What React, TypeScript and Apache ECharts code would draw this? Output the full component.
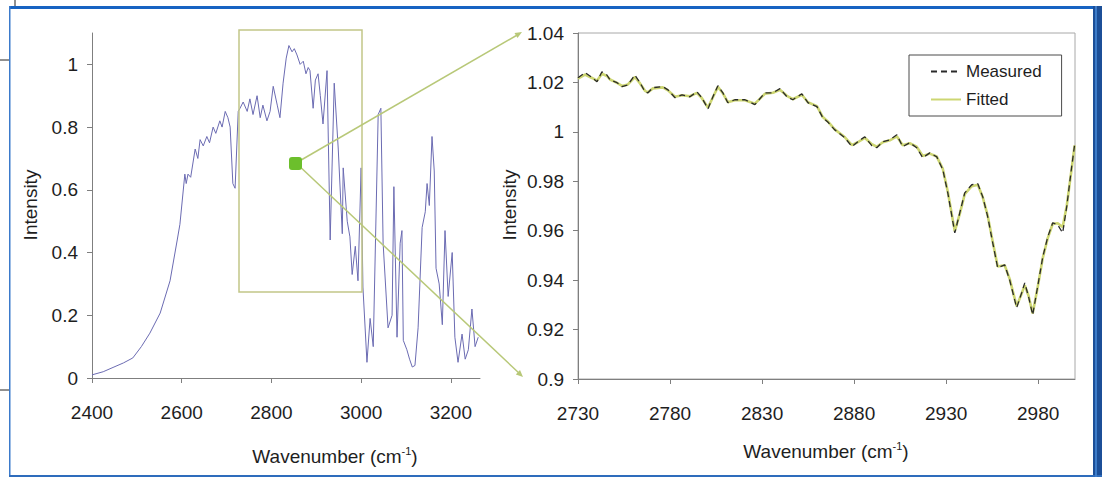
import React, { useEffect, useRef } from "react";
import * as echarts from "echarts";

// Left panel: full spectrum
const leftWavenumber = [
  2400, 2425, 2449, 2470, 2491, 2510, 2529, 2552, 2574, 2590, 2596, 2607, 2610, 2614, 2620,
  2630, 2636, 2641, 2648, 2656, 2662, 2670, 2676, 2685, 2690, 2697, 2703, 2708, 2714, 2719,
  2726, 2730, 2737, 2746, 2752, 2759, 2768, 2775, 2781, 2790, 2797, 2804, 2813, 2819, 2826,
  2833, 2839, 2846, 2851, 2857, 2864, 2871, 2877, 2882, 2886, 2893, 2898, 2904, 2909, 2915,
  2924, 2931, 2940, 2949, 2958, 2960, 2969, 2975, 2980, 2987, 2993, 3000, 3004, 3013, 3020,
  3027, 3038, 3044, 3049, 3060, 3069, 3073, 3080, 3087, 3091, 3094, 3102, 3108, 3114, 3120,
  3127, 3136, 3143, 3147, 3152, 3158, 3163, 3167, 3174, 3181, 3187, 3194, 3203, 3209, 3216,
  3225, 3232, 3239, 3247, 3254, 3261,
];
const leftIntensity = [
  0.01, 0.02, 0.035, 0.048, 0.064, 0.1, 0.143, 0.207, 0.31, 0.44, 0.49, 0.65, 0.62, 0.65, 0.64,
  0.73, 0.7, 0.76, 0.74, 0.77, 0.75, 0.8, 0.78, 0.82, 0.8, 0.85, 0.83, 0.8, 0.62, 0.605,
  0.85, 0.86, 0.88, 0.85, 0.89, 0.84, 0.9, 0.83, 0.87, 0.82, 0.85, 0.93, 0.87, 0.83, 0.94,
  1.02, 1.06, 1.04, 1.05, 1.03, 1.0, 1.01, 0.97, 0.99, 0.98, 0.86, 0.95, 0.97, 0.9, 0.81,
  0.98, 0.44, 0.94, 0.73, 0.46, 0.67, 0.5, 0.45, 0.33, 0.42, 0.31, 0.67, 0.29, 0.05, 0.19,
  0.1, 0.84, 0.86, 0.43, 0.16, 0.2, 0.61, 0.13, 0.43, 0.47, 0.12, 0.09, 0.06, 0.035, 0.04,
  0.16, 0.48, 0.53, 0.62, 0.55, 0.77, 0.66, 0.35, 0.3, 0.17, 0.47, 0.26, 0.4, 0.13, 0.05,
  0.14, 0.06, 0.09, 0.22, 0.1, 0.13,
];
const leftXTicks = [2400, 2600, 2800, 3000, 3200];
const leftYTicks = [0, 0.2, 0.4, 0.6, 0.8, 1];

// Right panel: zoomed region, measured vs fitted
const rightWavenumber = [
  2730.0, 2733.8, 2737.6, 2740.3, 2743.0, 2745.7, 2747.4, 2751.2, 2753.9, 2757.1, 2760.9,
  2763.7, 2766.4, 2768.0, 2770.7, 2776.1, 2778.9, 2782.7, 2786.5, 2790.8, 2794.6, 2797.3,
  2800.6, 2803.3, 2806.0, 2808.7, 2811.4, 2815.2, 2820.7, 2826.1, 2831.5, 2835.9, 2839.7,
  2843.5, 2846.7, 2851.6, 2854.9, 2859.8, 2863.0, 2865.7, 2869.5, 2875.0, 2878.8, 2882.0,
  2885.8, 2889.6, 2892.3, 2895.6, 2899.4, 2903.2, 2906.4, 2910.2, 2914.0, 2917.3, 2921.1,
  2924.9, 2928.2, 2930.9, 2934.7, 2937.4, 2940.1, 2943.9, 2947.2, 2949.9, 2952.6, 2955.3,
  2958.0, 2961.8, 2964.5, 2968.3, 2971.0, 2972.7, 2974.8, 2977.0, 2979.7, 2982.5, 2985.2,
  2987.9, 2990.6, 2993.3, 2995.5, 2998.2, 2999.8,
];
const measured = [
  1.0219, 1.024, 1.022, 1.0203, 1.0243, 1.023, 1.021, 1.0199, 1.0183, 1.019, 1.023,
  1.0199, 1.0162, 1.0158, 1.0179, 1.0183, 1.017, 1.0138, 1.015, 1.0142, 1.0162, 1.0138,
  1.0093, 1.0142, 1.0187, 1.0158, 1.0118, 1.013, 1.013, 1.011, 1.0158, 1.0158, 1.0175,
  1.0142, 1.013, 1.0154, 1.0118, 1.0102, 1.0057, 1.004, 1.0008, 0.9976, 0.994, 0.996,
  0.998, 0.9944, 0.9936, 0.996, 0.9968, 0.9988, 0.994, 0.9956, 0.9936, 0.9895, 0.9915,
  0.9899, 0.9847, 0.9753, 0.9591, 0.9672, 0.9753, 0.9786, 0.979, 0.9737, 0.9656, 0.9551,
  0.945, 0.9462, 0.9401, 0.9288, 0.9348, 0.9389, 0.9332, 0.9259, 0.9373, 0.9494, 0.9575,
  0.9632, 0.9624, 0.9591, 0.9697, 0.9859, 0.9948,
];
const fitted = [
  1.0215, 1.0232, 1.0218, 1.0207, 1.0235, 1.0226, 1.0212, 1.0198, 1.0186, 1.0192, 1.0222,
  1.0196, 1.0166, 1.016, 1.0176, 1.018, 1.0168, 1.0142, 1.0148, 1.0144, 1.0158, 1.0136,
  1.0098, 1.014, 1.0182, 1.0156, 1.012, 1.0128, 1.0128, 1.0114, 1.0154, 1.0158, 1.017,
  1.0146, 1.0132, 1.015, 1.012, 1.0104, 1.006, 1.0042, 1.001, 0.9978, 0.9946, 0.9958,
  0.9976, 0.995, 0.994, 0.9958, 0.9966, 0.9982, 0.9946, 0.9954, 0.994, 0.9902, 0.9912,
  0.99, 0.985, 0.9758, 0.9598, 0.9668, 0.9748, 0.978, 0.9786, 0.9735, 0.966, 0.9555,
  0.9455, 0.946, 0.9405, 0.9295, 0.9345, 0.938, 0.9336, 0.9265, 0.937, 0.949, 0.957,
  0.9628, 0.963, 0.9615, 0.97, 0.9852, 0.9945,
];
const rightXTicks = [2730, 2780, 2830, 2880, 2930, 2980];
const rightYTicks = [0.9, 0.92, 0.94, 0.96, 0.98, 1, 1.02, 1.04];

const FONT = "'Liberation Sans', Arial, sans-serif";
const TXT = "#1e1e1e";
const AXIS = "#7f7f7f";

export default function App() {
  const ref = useRef<HTMLDivElement>(null);
  useEffect(() => {
    document.body.style.margin = "0";
    if (!ref.current) return;
    const chart = echarts.init(ref.current, undefined, { renderer: "svg" });

    const leftData = leftWavenumber.map((w, i) => [w, leftIntensity[i]]);
    const measData = rightWavenumber.map((w, i) => [w, measured[i]]);
    const fitData = rightWavenumber.map((w, i) => [w, fitted[i]]);

    const axisLabel = (custom: number[], margin: number) => ({
      customValues: custom,
      margin,
      fontSize: 19,
      fontFamily: FONT,
      color: TXT,
      formatter: (v: number) => String(v),
    });
    const axisTick = (custom: number[]) => ({
      show: true,
      customValues: custom,
      length: 5,
      lineStyle: { color: AXIS },
    });

    const richTitle = {
      n: { fontSize: 19, fontFamily: FONT, fill: TXT, lineHeight: 22 },
      s: { fontSize: 11, fontFamily: FONT, fill: TXT, verticalAlign: "top", lineHeight: 22 },
    };

    chart.setOption({
      animation: false,
      backgroundColor: "#ffffff",
      textStyle: { fontFamily: FONT },
      grid: [
        { left: 92, top: 33, width: 388, height: 345, outerBoundsMode: "none", containLabel: false },
        {
          left: 578,
          top: 33,
          width: 497,
          height: 346,
          show: true,
          borderColor: "#a8a8a8",
          borderWidth: 1,
          backgroundColor: "transparent",
          outerBoundsMode: "none",
          containLabel: false,
        },
      ],
      xAxis: [
        {
          type: "value",
          gridIndex: 0,
          min: 2400,
          max: 3265,
          axisLine: { show: true, lineStyle: { color: AXIS } },
          axisTick: axisTick(leftXTicks),
          axisLabel: axisLabel(leftXTicks, 25),
          splitLine: { show: false },
        },
        {
          type: "value",
          gridIndex: 1,
          min: 2730,
          max: 3000,
          axisLine: { show: true, lineStyle: { color: AXIS } },
          axisTick: axisTick(rightXTicks),
          axisLabel: axisLabel(rightXTicks, 25),
          splitLine: { show: false },
        },
      ],
      yAxis: [
        {
          type: "value",
          gridIndex: 0,
          min: 0,
          max: 1.1,
          axisLine: { show: true, lineStyle: { color: AXIS } },
          axisTick: axisTick(leftYTicks),
          axisLabel: axisLabel(leftYTicks, 14),
          splitLine: { show: false },
        },
        {
          type: "value",
          gridIndex: 1,
          min: 0.9,
          max: 1.04,
          axisLine: { show: true, lineStyle: { color: AXIS } },
          axisTick: axisTick(rightYTicks),
          axisLabel: axisLabel(rightYTicks, 14),
          splitLine: { show: false },
        },
      ],
      legend: {
        data: ["Measured", "Fitted"],
        orient: "vertical",
        left: 909,
        top: 55,
        padding: [8, 20, 8, 21],
        itemWidth: 30,
        itemHeight: 14,
        itemGap: 11,
        borderColor: "#4a4a4a",
        borderWidth: 1,
        backgroundColor: "#ffffff",
        itemStyle: { opacity: 0, color: "transparent", borderColor: "transparent", borderWidth: 0 },
        textStyle: { fontSize: 17, fontFamily: FONT, color: TXT },
      },
      series: [
        {
          name: "Spectrum",
          type: "line",
          xAxisIndex: 0,
          yAxisIndex: 0,
          data: leftData,
          symbol: "none",
          lineStyle: { color: "#6b6bb2", width: 1 },
          itemStyle: { color: "#6b6bb2" },
          z: 2,
        },
        {
          name: "Fitted",
          type: "line",
          xAxisIndex: 1,
          yAxisIndex: 1,
          data: fitData,
          symbol: "none",
          lineStyle: { color: "#cdd672", width: 2.6 },
          itemStyle: { color: "#cdd672" },
          z: 2,
        },
        {
          name: "Measured",
          type: "line",
          xAxisIndex: 1,
          yAxisIndex: 1,
          data: measData,
          symbol: "none",
          lineStyle: { color: "#2a2a2a", width: 1.3, type: [6, 4] },
          itemStyle: { color: "#2a2a2a" },
          z: 3,
        },
      ],
      graphic: [
        // window frame
        { type: "rect", shape: { x: 9, y: 6, width: 1093, height: 3 }, style: { fill: "#1763c2" }, z: 10 },
        { type: "rect", shape: { x: 9, y: 6, width: 1.5, height: 471 }, style: { fill: "#3b7acb" }, z: 10 },
        { type: "rect", shape: { x: 1093, y: 6, width: 9, height: 471 }, style: { fill: "#1c4f98" }, z: 10 },
        { type: "rect", shape: { x: 1095, y: 6, width: 2, height: 471 }, style: { fill: "#3d7cc9" }, z: 11 },
        { type: "rect", shape: { x: 9, y: 475, width: 1093, height: 2 }, style: { fill: "#2e6cbc" }, z: 10 },
        // bits of the page outside the window
        { type: "line", shape: { x1: 15, y1: 0, x2: 15, y2: 6 }, style: { stroke: "#222", lineWidth: 1 } },
        { type: "line", shape: { x1: 0, y1: 60, x2: 9, y2: 60 }, style: { stroke: "#222", lineWidth: 1 } },
        { type: "line", shape: { x1: 0, y1: 390, x2: 9, y2: 390 }, style: { stroke: "#222", lineWidth: 1 } },
        // zoom rectangle
        {
          type: "rect",
          shape: { x: 239, y: 30, width: 123, height: 262 },
          style: { fill: "none", stroke: "#c2c688", lineWidth: 1.5 },
          z: 5,
        },
        // connectors
        {
          type: "line",
          shape: { x1: 296, y1: 163, x2: 519, y2: 34 },
          style: { stroke: "#b8c878", lineWidth: 1.5 },
          z: 5,
        },
        {
          type: "polygon",
          shape: { points: [[522, 32], [517.5, 38.1], [514.5, 32.9]] },
          style: { fill: "#b8c878" },
          z: 5,
        },
        {
          type: "line",
          shape: { x1: 296, y1: 163, x2: 520, y2: 374 },
          style: { stroke: "#b8c878", lineWidth: 1.5 },
          z: 5,
        },
        {
          type: "polygon",
          shape: { points: [[523, 377], [515.8, 374.4], [520, 370]] },
          style: { fill: "#b8c878" },
          z: 5,
        },
        {
          type: "rect",
          shape: { x: 289, y: 157, width: 13, height: 13, r: 3 },
          style: { fill: "#6cbf2c" },
          z: 6,
        },
        // axis titles
        {
          type: "text",
          x: 30,
          y: 205,
          rotation: Math.PI / 2,
          style: { text: "Intensity", fontSize: 19, fontFamily: FONT, fill: TXT, align: "center", verticalAlign: "middle" },
          z: 5,
        },
        {
          type: "text",
          x: 509,
          y: 205,
          rotation: Math.PI / 2,
          style: { text: "Intensity", fontSize: 19, fontFamily: FONT, fill: TXT, align: "center", verticalAlign: "middle" },
          z: 5,
        },
        {
          type: "text",
          x: 335,
          y: 456,
          style: {
            text: "{n|Wavenumber (cm}{s|-1}{n|)}",
            rich: richTitle,
            align: "center",
            verticalAlign: "middle",
          },
          z: 5,
        },
        {
          type: "text",
          x: 826,
          y: 451,
          style: {
            text: "{n|Wavenumber (cm}{s|-1}{n|)}",
            rich: richTitle,
            align: "center",
            verticalAlign: "middle",
          },
          z: 5,
        },
      ],
    });
    return () => chart.dispose();
  }, []);
  return <div ref={ref} style={{ width: 1102, height: 477 }} />;
}
